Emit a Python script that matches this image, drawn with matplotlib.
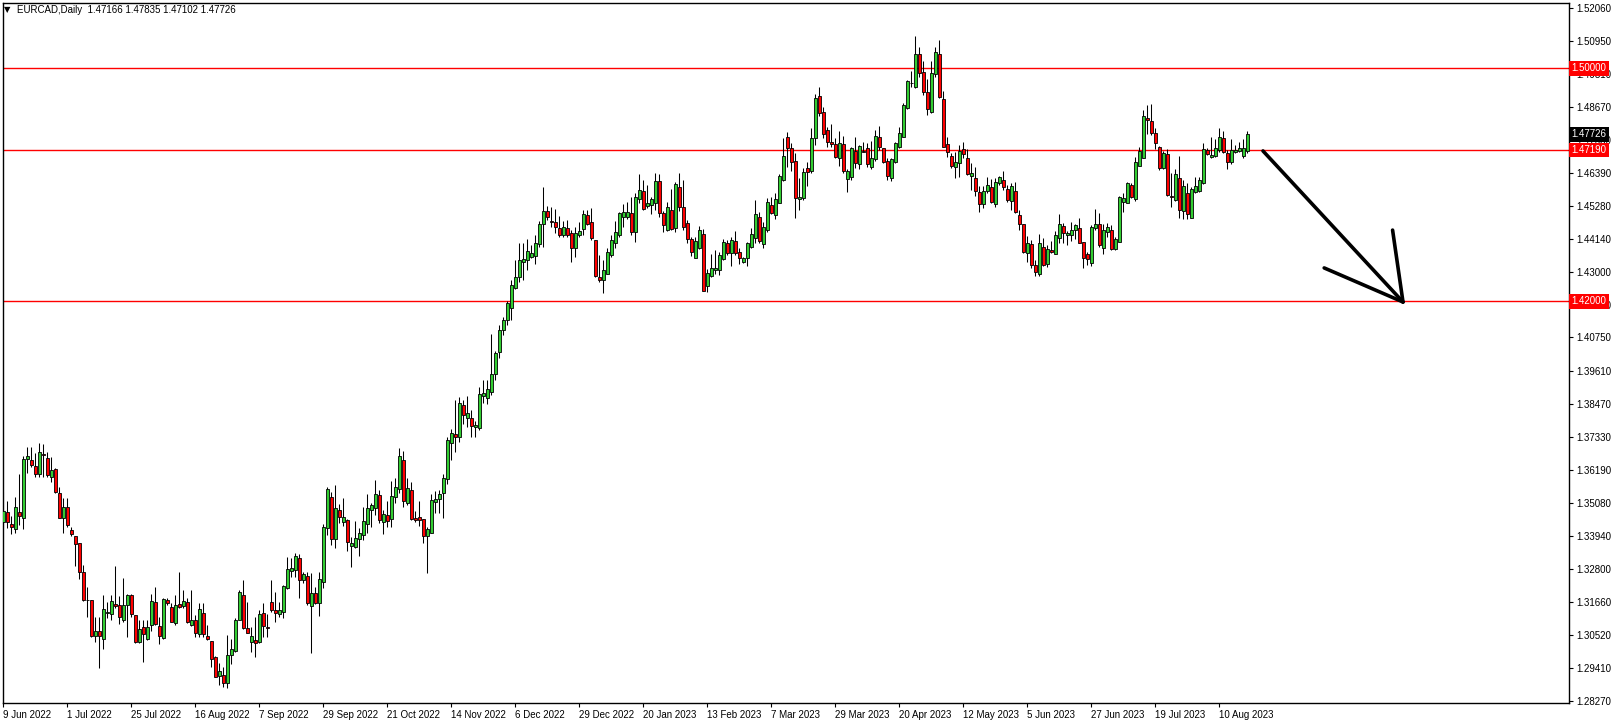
import numpy as np
import matplotlib.pyplot as plt
from matplotlib.transforms import blended_transform_factory

plt.rcParams['font.family'] = ['Liberation Sans', 'DejaVu Sans']

# EURCAD daily candles (bar 0 = 9 Jun 2022)
opens = [
    1.3442, 1.3474, 1.3433, 1.3416, 1.3474, 1.3454, 1.3657, 1.3654, 1.3632, 1.3605,
    1.3673, 1.3660, 1.3594, 1.3623, 1.3539, 1.3454, 1.3491, 1.3413, 1.3392, 1.3368,
    1.3269, 1.3173, 1.3172, 1.3050, 1.3065, 1.3038, 1.3127, 1.3125, 1.3160, 1.3155,
    1.3106, 1.3155, 1.3189, 1.3120, 1.3028, 1.3079, 1.3038, 1.3086, 1.3166, 1.3082,
    1.3041, 1.3172, 1.3149, 1.3093, 1.3158, 1.3151, 1.3166, 1.3087, 1.3106, 1.3055,
    1.3128, 1.3051, 1.3032, 1.2978, 1.2912, 1.2914, 1.2887, 1.2983, 1.2998, 1.3106,
    1.3189, 1.3077, 1.3030, 1.3034, 1.3028, 1.3127, 1.3080, 1.3166, 1.3139, 1.3125,
    1.3131, 1.3215, 1.3274, 1.3275, 1.3316, 1.3241, 1.3255, 1.3154, 1.3197, 1.3162,
    1.3236, 1.3419, 1.3526, 1.3381, 1.3482, 1.3440, 1.3448, 1.3360, 1.3354, 1.3381,
    1.3398, 1.3433, 1.3483, 1.3490, 1.3533, 1.3442, 1.3464, 1.3452, 1.3528, 1.3553,
    1.3653, 1.3507, 1.3550, 1.3455, 1.3457, 1.3450, 1.3394, 1.3404, 1.3511, 1.3521,
    1.3540, 1.3588, 1.3714, 1.3743, 1.3734, 1.3843, 1.3799, 1.3797, 1.3766, 1.3765,
    1.3875, 1.3866, 1.3889, 1.3950, 1.4025, 1.4101, 1.4135, 1.4175, 1.4246, 1.4282,
    1.4335, 1.4340, 1.4353, 1.4355, 1.4395, 1.4464, 1.4509, 1.4475, 1.4471, 1.4450,
    1.4426, 1.4450, 1.4435, 1.4381, 1.4426, 1.4447, 1.4495, 1.4471, 1.4409, 1.4284,
    1.4272, 1.4294, 1.4358, 1.4399, 1.4426, 1.4488, 1.4490, 1.4502, 1.4439, 1.4550,
    1.4577, 1.4528, 1.4529, 1.4538, 1.4613, 1.4502, 1.4444, 1.4513, 1.4450, 1.4591,
    1.4522, 1.4467, 1.4413, 1.4349, 1.4384, 1.4430, 1.4253, 1.4287, 1.4307, 1.4306,
    1.4345, 1.4399, 1.4364, 1.4407, 1.4368, 1.4335, 1.4349, 1.4387, 1.4416, 1.4490,
    1.4395, 1.4444, 1.4530, 1.4496, 1.4538, 1.4616, 1.4763, 1.4725, 1.4681, 1.4551,
    1.4553, 1.4656, 1.4648, 1.4761, 1.4905, 1.4849, 1.4788, 1.4746, 1.4739, 1.4693,
    1.4739, 1.4620, 1.4628, 1.4717, 1.4670, 1.4717, 1.4725, 1.4662, 1.4687, 1.4763,
    1.4725, 1.4681, 1.4622, 1.4679, 1.4731, 1.4765, 1.4865, 1.4950, 1.4937, 1.5048,
    1.4986, 1.4918, 1.4851, 1.4979, 1.5048, 1.4893, 1.4739, 1.4699, 1.4662, 1.4673,
    1.4722, 1.4691, 1.4631, 1.4622, 1.4574, 1.4534, 1.4578, 1.4591, 1.4533, 1.4605,
    1.4616, 1.4584, 1.4544, 1.4579, 1.4495, 1.4464, 1.4364, 1.4395, 1.4324, 1.4292,
    1.4387, 1.4327, 1.4376, 1.4363, 1.4418, 1.4458, 1.4428, 1.4428, 1.4444, 1.4450,
    1.4402, 1.4361, 1.4332, 1.4450, 1.4464, 1.4381, 1.4439, 1.4444, 1.4379, 1.4404,
    1.4542, 1.4538, 1.4599, 1.4552, 1.4665, 1.4693, 1.4828, 1.4819, 1.4779, 1.4731,
    1.4656, 1.4705, 1.4561, 1.4546, 1.4624, 1.4511, 1.4573, 1.4487, 1.4576, 1.4579,
    1.4605, 1.4719, 1.4696, 1.4698, 1.4719, 1.4759, 1.4708, 1.4677, 1.4713, 1.4717,
    1.4700, 1.47166,
]
highs = [
    1.3545, 1.3513, 1.3463, 1.3526, 1.3606, 1.3669, 1.3698, 1.3700, 1.3677, 1.3711,
    1.3709, 1.3683, 1.3665, 1.3625, 1.3560, 1.3522, 1.3522, 1.3423, 1.3394, 1.3370,
    1.3293, 1.3216, 1.3173, 1.3113, 1.3113, 1.3190, 1.3166, 1.3190, 1.3290, 1.3187,
    1.3247, 1.3194, 1.3194, 1.3122, 1.3104, 1.3104, 1.3104, 1.3194, 1.3216, 1.3116,
    1.3179, 1.3179, 1.3162, 1.3190, 1.3268, 1.3207, 1.3179, 1.3207, 1.3121, 1.3162,
    1.3162, 1.3087, 1.3033, 1.2980, 1.2955, 1.2944, 1.3053, 1.3038, 1.3110, 1.3207,
    1.3242, 1.3167, 1.3081, 1.3116, 1.3139, 1.3162, 1.3125, 1.3242, 1.3202, 1.3167,
    1.3225, 1.3322, 1.3316, 1.3333, 1.3331, 1.3270, 1.3270, 1.3265, 1.3219, 1.3270,
    1.3434, 1.3561, 1.3544, 1.3568, 1.3503, 1.3522, 1.3450, 1.3388, 1.3444, 1.3419,
    1.3491, 1.3537, 1.3507, 1.3585, 1.3551, 1.3482, 1.3514, 1.3582, 1.3591, 1.3694,
    1.3684, 1.3591, 1.3578, 1.3478, 1.3513, 1.3452, 1.3425, 1.3537, 1.3549, 1.3551,
    1.3606, 1.3732, 1.3761, 1.3860, 1.3872, 1.3860, 1.3874, 1.3826, 1.3789, 1.3906,
    1.3929, 1.3929, 1.4086, 1.4030, 1.4118, 1.4145, 1.4202, 1.4272, 1.4341, 1.4399,
    1.4400, 1.4412, 1.4393, 1.4426, 1.4475, 1.4593, 1.4528, 1.4524, 1.4515, 1.4492,
    1.4475, 1.4479, 1.4444, 1.4456, 1.4473, 1.4513, 1.4513, 1.4519, 1.4410, 1.4358,
    1.4341, 1.4381, 1.4427, 1.4475, 1.4507, 1.4533, 1.4542, 1.4559, 1.4570, 1.4637,
    1.4616, 1.4599, 1.4559, 1.4639, 1.4637, 1.4510, 1.4542, 1.4585, 1.4610, 1.4639,
    1.4616, 1.4479, 1.4421, 1.4421, 1.4458, 1.4448, 1.4310, 1.4361, 1.4376, 1.4370,
    1.4413, 1.4410, 1.4419, 1.4441, 1.4381, 1.4353, 1.4404, 1.4450, 1.4547, 1.4507,
    1.4473, 1.4555, 1.4559, 1.4570, 1.4636, 1.4759, 1.4780, 1.4742, 1.4708, 1.4623,
    1.4656, 1.4677, 1.4796, 1.4912, 1.4935, 1.4868, 1.4797, 1.4807, 1.4759, 1.4785,
    1.4767, 1.4653, 1.4731, 1.4765, 1.4736, 1.4748, 1.4742, 1.4750, 1.4788, 1.4802,
    1.4727, 1.4691, 1.4693, 1.4748, 1.4799, 1.4882, 1.4960, 1.4991, 1.5111, 1.5072,
    1.5026, 1.4962, 1.5025, 1.5072, 1.5097, 1.4922, 1.4765, 1.4708, 1.4713, 1.4736,
    1.4745, 1.4722, 1.4673, 1.4660, 1.4596, 1.4596, 1.4627, 1.4619, 1.4624, 1.4630,
    1.4648, 1.4599, 1.4605, 1.4610, 1.4513, 1.4465, 1.4424, 1.4410, 1.4341, 1.4430,
    1.4416, 1.4393, 1.4408, 1.4442, 1.4499, 1.4469, 1.4442, 1.4473, 1.4466, 1.4484,
    1.4404, 1.4370, 1.4462, 1.4516, 1.4502, 1.4464, 1.4467, 1.4461, 1.4421, 1.4561,
    1.4572, 1.4610, 1.4605, 1.4696, 1.4729, 1.4857, 1.4874, 1.4877, 1.4796, 1.4733,
    1.4716, 1.4721, 1.4639, 1.4654, 1.4699, 1.4616, 1.4607, 1.4593, 1.4627, 1.4625,
    1.4744, 1.4727, 1.4765, 1.4756, 1.4794, 1.4785, 1.4719, 1.4756, 1.4736, 1.4745,
    1.4756, 1.47835,
]
lows = [
    1.3425, 1.3419, 1.3399, 1.3404, 1.3431, 1.3416, 1.3608, 1.3631, 1.3594, 1.3594,
    1.3597, 1.3594, 1.3580, 1.3542, 1.3454, 1.3402, 1.3425, 1.3394, 1.3291, 1.3244,
    1.3171, 1.3113, 1.3047, 1.3030, 1.2938, 1.3003, 1.3110, 1.3104, 1.3146, 1.3089,
    1.3098, 1.3047, 1.3116, 1.3026, 1.3024, 1.2961, 1.3036, 1.3066, 1.3087, 1.3021,
    1.3038, 1.3156, 1.3096, 1.3087, 1.3147, 1.3144, 1.3093, 1.3085, 1.3045, 1.3045,
    1.3045, 1.3036, 1.2944, 1.2907, 1.2881, 1.2873, 1.2872, 1.2952, 1.2995, 1.3104,
    1.3074, 1.3058, 1.2995, 1.2976, 1.3024, 1.3045, 1.3045, 1.3133, 1.3098, 1.3116,
    1.3110, 1.3211, 1.3253, 1.3253, 1.3179, 1.3230, 1.3156, 1.2990, 1.3159, 1.3119,
    1.3213, 1.3396, 1.3362, 1.3350, 1.3439, 1.3428, 1.3343, 1.3288, 1.3353, 1.3324,
    1.3379, 1.3404, 1.3425, 1.3465, 1.3439, 1.3400, 1.3425, 1.3425, 1.3507, 1.3540,
    1.3494, 1.3499, 1.3448, 1.3440, 1.3428, 1.3370, 1.3267, 1.3402, 1.3473, 1.3471,
    1.3456, 1.3570, 1.3654, 1.3683, 1.3717, 1.3778, 1.3769, 1.3734, 1.3732, 1.3757,
    1.3851, 1.3846, 1.3877, 1.3930, 1.4004, 1.4084, 1.4118, 1.4135, 1.4240, 1.4267,
    1.4272, 1.4307, 1.4348, 1.4328, 1.4385, 1.4387, 1.4479, 1.4456, 1.4435, 1.4421,
    1.4421, 1.4421, 1.4335, 1.4353, 1.4421, 1.4427, 1.4461, 1.4410, 1.4284, 1.4267,
    1.4229, 1.4292, 1.4353, 1.4381, 1.4421, 1.4456, 1.4482, 1.4427, 1.4404, 1.4538,
    1.4513, 1.4519, 1.4498, 1.4513, 1.4490, 1.4438, 1.4441, 1.4444, 1.4438, 1.4510,
    1.4444, 1.4399, 1.4355, 1.4347, 1.4379, 1.4234, 1.4232, 1.4284, 1.4293, 1.4290,
    1.4341, 1.4358, 1.4322, 1.4358, 1.4327, 1.4332, 1.4322, 1.4383, 1.4401, 1.4399,
    1.4381, 1.4438, 1.4498, 1.4482, 1.4536, 1.4613, 1.4662, 1.4647, 1.4487, 1.4513,
    1.4547, 1.4597, 1.4641, 1.4736, 1.4837, 1.4761, 1.4731, 1.4731, 1.4691, 1.4664,
    1.4641, 1.4576, 1.4616, 1.4658, 1.4653, 1.4711, 1.4662, 1.4653, 1.4682, 1.4719,
    1.4676, 1.4616, 1.4614, 1.4673, 1.4725, 1.4763, 1.4861, 1.4937, 1.4931, 1.4971,
    1.4908, 1.4839, 1.4845, 1.4971, 1.4897, 1.4729, 1.4696, 1.4656, 1.4624, 1.4628,
    1.4691, 1.4633, 1.4582, 1.4561, 1.4507, 1.4519, 1.4570, 1.4536, 1.4525, 1.4599,
    1.4582, 1.4542, 1.4513, 1.4502, 1.4444, 1.4364, 1.4335, 1.4313, 1.4287, 1.4287,
    1.4321, 1.4318, 1.4364, 1.4361, 1.4399, 1.4399, 1.4393, 1.4407, 1.4412, 1.4399,
    1.4313, 1.4324, 1.4321, 1.4444, 1.4385, 1.4361, 1.4419, 1.4376, 1.4376, 1.4402,
    1.4507, 1.4536, 1.4555, 1.4545, 1.4664, 1.4691, 1.4774, 1.4771, 1.4722, 1.4650,
    1.4654, 1.4561, 1.4524, 1.4544, 1.4485, 1.4481, 1.4481, 1.4485, 1.4573, 1.4576,
    1.4602, 1.4702, 1.4691, 1.4694, 1.4713, 1.4708, 1.4653, 1.4671, 1.4710, 1.4711,
    1.4691, 1.47102,
]
closes = [
    1.3480, 1.3442, 1.3423, 1.3491, 1.3463, 1.3657, 1.3667, 1.3638, 1.3605, 1.3680,
    1.3671, 1.3601, 1.3619, 1.3544, 1.3456, 1.3491, 1.3431, 1.3399, 1.3367, 1.3270,
    1.3173, 1.3172, 1.3050, 1.3065, 1.3048, 1.3141, 1.3133, 1.3168, 1.3154, 1.3113,
    1.3155, 1.3190, 1.3124, 1.3029, 1.3072, 1.3055, 1.3079, 1.3168, 1.3089, 1.3051,
    1.3176, 1.3162, 1.3098, 1.3156, 1.3150, 1.3168, 1.3096, 1.3104, 1.3058, 1.3141,
    1.3055, 1.3038, 1.2971, 1.2910, 1.2929, 1.2887, 1.2983, 1.3005, 1.3106, 1.3202,
    1.3078, 1.3061, 1.3049, 1.3024, 1.3125, 1.3085, 1.3077, 1.3137, 1.3127, 1.3139,
    1.3220, 1.3279, 1.3282, 1.3324, 1.3242, 1.3261, 1.3162, 1.3197, 1.3162, 1.3244,
    1.3424, 1.3554, 1.3381, 1.3488, 1.3459, 1.3457, 1.3371, 1.3368, 1.3385, 1.3402,
    1.3444, 1.3488, 1.3498, 1.3536, 1.3447, 1.3467, 1.3446, 1.3529, 1.3560, 1.3667,
    1.3514, 1.3557, 1.3451, 1.3449, 1.3449, 1.3394, 1.3416, 1.3517, 1.3520, 1.3536,
    1.3591, 1.3722, 1.3746, 1.3734, 1.3849, 1.3807, 1.3814, 1.3772, 1.3774, 1.3880,
    1.3883, 1.3897, 1.3948, 1.4020, 1.4101, 1.4135, 1.4194, 1.4254, 1.4284, 1.4341,
    1.4345, 1.4372, 1.4365, 1.4399, 1.4464, 1.4509, 1.4490, 1.4473, 1.4456, 1.4427,
    1.4456, 1.4426, 1.4381, 1.4433, 1.4440, 1.4498, 1.4464, 1.4416, 1.4286, 1.4272,
    1.4307, 1.4368, 1.4410, 1.4436, 1.4504, 1.4505, 1.4505, 1.4439, 1.4559, 1.4582,
    1.4518, 1.4537, 1.4551, 1.4613, 1.4504, 1.4462, 1.4522, 1.4447, 1.4602, 1.4524,
    1.4456, 1.4413, 1.4370, 1.4407, 1.4444, 1.4236, 1.4296, 1.4313, 1.4315, 1.4358,
    1.4402, 1.4366, 1.4409, 1.4366, 1.4349, 1.4347, 1.4399, 1.4430, 1.4498, 1.4407,
    1.4454, 1.4540, 1.4504, 1.4550, 1.4630, 1.4699, 1.4727, 1.4679, 1.4555, 1.4557,
    1.4643, 1.4645, 1.4759, 1.4897, 1.4847, 1.4775, 1.4748, 1.4740, 1.4696, 1.4742,
    1.4648, 1.4647, 1.4725, 1.4673, 1.4733, 1.4714, 1.4670, 1.4691, 1.4768, 1.4731,
    1.4677, 1.4631, 1.4687, 1.4742, 1.4779, 1.4873, 1.4955, 1.4948, 1.5048, 1.4983,
    1.4918, 1.4860, 1.4983, 1.5055, 1.4902, 1.4731, 1.4711, 1.4665, 1.4679, 1.4717,
    1.4704, 1.4637, 1.4641, 1.4579, 1.4535, 1.4578, 1.4599, 1.4540, 1.4608, 1.4627,
    1.4593, 1.4547, 1.4596, 1.4505, 1.4465, 1.4368, 1.4399, 1.4325, 1.4301, 1.4399,
    1.4324, 1.4378, 1.4368, 1.4427, 1.4464, 1.4433, 1.4434, 1.4444, 1.4462, 1.4401,
    1.4347, 1.4344, 1.4456, 1.4464, 1.4393, 1.4444, 1.4454, 1.4379, 1.4413, 1.4559,
    1.4553, 1.4605, 1.4559, 1.4679, 1.4716, 1.4836, 1.4822, 1.4777, 1.4742, 1.4656,
    1.4708, 1.4565, 1.4557, 1.4636, 1.4513, 1.4597, 1.4498, 1.4584, 1.4597, 1.4616,
    1.4722, 1.4704, 1.4702, 1.4725, 1.4763, 1.4711, 1.4677, 1.4719, 1.4719, 1.4725,
    1.4725, 1.47726,
]

date_labels = ["9 Jun 2022", "1 Jul 2022", "25 Jul 2022", "16 Aug 2022", "7 Sep 2022",
               "29 Sep 2022", "21 Oct 2022", "14 Nov 2022", "6 Dec 2022", "29 Dec 2022",
               "20 Jan 2023", "13 Feb 2023", "7 Mar 2023", "29 Mar 2023", "20 Apr 2023",
               "12 May 2023", "5 Jun 2023", "27 Jun 2023", "19 Jul 2023", "10 Aug 2023"]
bars_per_label = 16

price_ticks = [1.28270, 1.29410, 1.30520, 1.31660, 1.32800, 1.33940, 1.35080, 1.36190,
               1.37330, 1.38470, 1.39610, 1.40750, 1.41860, 1.43000, 1.44140, 1.45280,
               1.46390, 1.47530, 1.48670, 1.49810, 1.50950, 1.52060]
levels = [1.50000, 1.47190, 1.42000]

# hand-drawn arrow: (bar index, price)
arrow_start = (314.9, 1.4716)
arrow_tip = (349.9, 1.4197)
arrow_heads = [(330.2, 1.4314), (347.3, 1.4444)]

header = "EURCAD,Daily  1.47166 1.47835 1.47102 1.47726"

o = np.array(opens)
h = np.array(highs)
l = np.array(lows)
c = np.array(closes)
idx = np.arange(len(o))
up = c >= o
body_col = np.where(up, '#32cd32', '#ff0000')

fig = plt.figure(figsize=(16.15, 7.25), dpi=100, facecolor='white')
ax = fig.add_axes([3 / 1615, 22 / 725, 1566 / 1615, 700 / 725])
ax.set_facecolor('white')

ax.vlines(idx, l, h, color='black', lw=0.75, zorder=2)
ax.bar(idx, np.maximum(np.abs(c - o), 0.00002), bottom=np.minimum(o, c), width=0.75,
       color=body_col, edgecolor='black', linewidth=0.6, zorder=3)

for lv in levels:
    ax.axhline(lv, color='red', lw=1, zorder=1)

ax.set_xlim(-0.075, 391.4)
ax.set_ylim(1.28191, 1.52243)

ax.yaxis.tick_right()
ax.set_yticks(price_ticks)
ax.set_yticklabels([f"{p:.5f}" for p in price_ticks])
ax.tick_params(axis='y', direction='out', length=3, width=0.8, labelsize=7, pad=2)

ax.set_xticks(idx[::bars_per_label][:len(date_labels)])
ax.set_xticklabels(date_labels, ha='left')
ax.tick_params(axis='x', direction='out', length=3, width=0.8, labelsize=7, pad=2)

for s in ax.spines.values():
    s.set_color('black')
    s.set_linewidth(1)

trans = blended_transform_factory(ax.transAxes, ax.transData)
for lv in levels:
    ax.text(1.0015, lv, f"{lv:.5f}", transform=trans, ha='left', va='center',
            fontsize=7, color='white', zorder=10, clip_on=False,
            bbox=dict(boxstyle='square,pad=0.25', fc='red', ec='none'))
ax.text(1.0015, c[-1], f"{c[-1]:.5f}", transform=trans, ha='left', va='center',
        fontsize=7, color='white', zorder=10, clip_on=False,
        bbox=dict(boxstyle='square,pad=0.25', fc='black', ec='none'))

# arrow
ax.plot([arrow_start[0], arrow_tip[0]], [arrow_start[1], arrow_tip[1]],
        color='black', lw=2.6, solid_capstyle='round', zorder=5)
for hx, hy in arrow_heads:
    ax.plot([hx, arrow_tip[0]], [hy, arrow_tip[1]], color='black', lw=2.6,
            solid_capstyle='round', zorder=5)

fig.text(4 / 1615, 1 - 10 / 725, "\u25bc", fontsize=6, va='center', ha='left',
         family='DejaVu Sans')
fig.text(17 / 1615, 1 - 10 / 725, header, fontsize=7, va='center', ha='left')

fig.savefig('out.png', dpi=100, facecolor='white')
